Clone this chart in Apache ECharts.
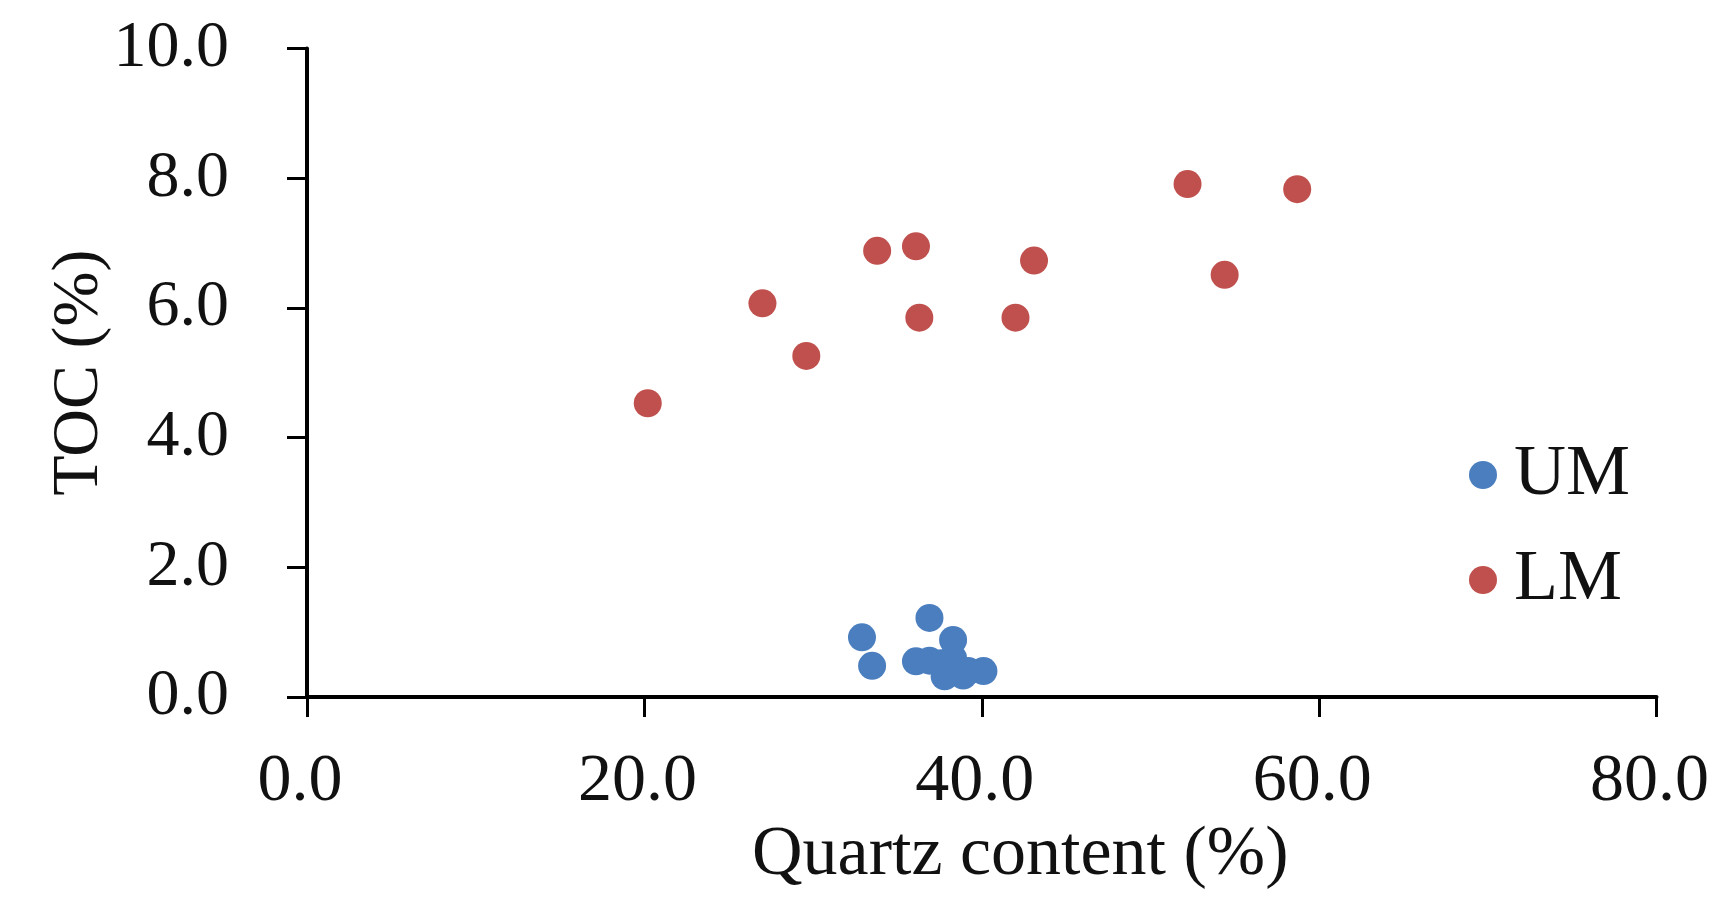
<!DOCTYPE html>
<html>
<head>
<meta charset="utf-8">
<script src="https://cdn.jsdelivr.net/npm/echarts@6/dist/echarts.min.js"></script>
<style>
  html, body { margin: 0; padding: 0; background: #fff; }
  #chart { width: 1731px; height: 906px; }
</style>
</head>
<body>
<div id="chart"></div>
<script>
  // quartz content (%), TOC (%)
  var umPoints = [
    [32.9, 0.92], [33.5, 0.48], [36.9, 1.22], [38.3, 0.88],
    [36.1, 0.55], [36.9, 0.56], [37.6, 0.52], [37.8, 0.32],
    [38.9, 0.33], [38.3, 0.60], [39.2, 0.40], [40.1, 0.40]
  ];
  var lmPoints = [
    [20.2, 4.53], [27.0, 6.07], [29.6, 5.26], [33.8, 6.88],
    [36.1, 6.95], [36.3, 5.85], [42.0, 5.85], [43.1, 6.73],
    [52.2, 7.91], [58.7, 7.83], [54.4, 6.51]
  ];
  var seriesNames = ['UM', 'LM'];
  var xTitle = 'Quartz content (%)';
  var yTitle = 'TOC (%)';

  var font = 'Liberation Serif';
  var chart = echarts.init(document.getElementById('chart'));
  chart.setOption({
    backgroundColor: '#fff',
    animation: false,
    grid: { left: 307, right: 74.5, top: 48.5, bottom: 209 },
    legend: {
      orient: 'vertical',
      left: 1464,
      top: 434,
      icon: 'circle',
      itemWidth: 28,
      itemHeight: 28,
      itemGap: 33,
      data: seriesNames,
      textStyle: { fontFamily: font, fontSize: 72, color: '#111', lineHeight: 68, padding: [0, 0, 0, 12] }
    },
    xAxis: {
      type: 'value',
      min: 0, max: 80, interval: 20,
      name: xTitle,
      nameLocation: 'middle',
      nameGap: 104,
      nameTextStyle: { fontFamily: font, fontSize: 70, color: '#111', padding: [0, 0, 0, 77] },
      axisLine: { lineStyle: { color: '#000', width: 4 } },
      axisTick: { inside: false, length: 20, lineStyle: { color: '#000', width: 3 } },
      axisLabel: {
        margin: 51, fontFamily: font, fontSize: 68, color: '#111', padding: [0, 14, 0, 0],
        formatter: function (v) { return v.toFixed(1); }
      },
      splitLine: { show: false }
    },
    yAxis: {
      type: 'value',
      min: 0, max: 10, interval: 2,
      name: yTitle,
      nameLocation: 'middle',
      nameGap: 194,
      nameMoveOverlap: false,
      nameTextStyle: { fontFamily: font, fontSize: 66, color: '#111' },
      axisLine: { show: true, lineStyle: { color: '#000', width: 4 } },
      axisTick: { show: true, inside: false, length: 20, lineStyle: { color: '#000', width: 3 } },
      axisLabel: {
        margin: 78, fontFamily: font, fontSize: 66, color: '#111',
        formatter: function (v) { return v.toFixed(1); }
      },
      splitLine: { show: false }
    },
    series: [{
      name: seriesNames[0],
      type: 'scatter',
      symbolSize: 28,
      itemStyle: { color: '#4A7EBF', opacity: 1 },
      data: umPoints
    }, {
      name: seriesNames[1],
      type: 'scatter',
      symbolSize: 28,
      itemStyle: { color: '#C0504D', opacity: 1 },
      data: lmPoints
    }]
  });
</script>
</body>
</html>
